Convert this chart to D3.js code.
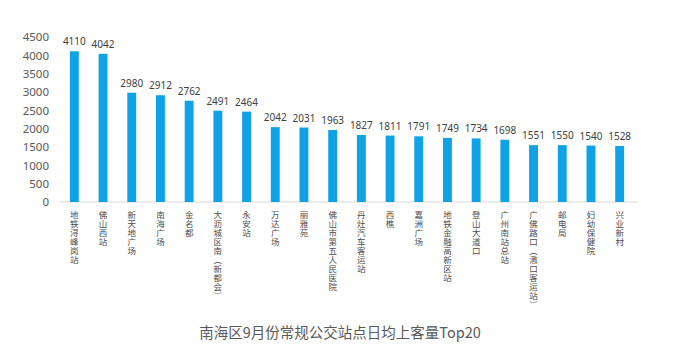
<!DOCTYPE html>
<html lang="zh">
<head>
  <meta charset="utf-8">
  <title>南海区9月份常规公交站点日均上客量Top20</title>
  <script src="https://cdn.jsdelivr.net/npm/d3@7/dist/d3.min.js"></script>
  <style>
    body { margin: 0; background: #fff; }
    text { font-family: "Noto Sans CJK SC", "Noto Sans", sans-serif; }
  </style>
</head>
<body>
  <div id="chart-area"></div>
  <script>
    var stations = ["地铁浔峰岗站", "佛山西站", "新天地广场", "南海广场", "金名都",
                    "大沥城区南（新都会）", "永安站", "万达广场", "丽雅苑", "佛山市第五人民医院",
                    "丹灶汽车客运站", "西樵", "嘉洲广场", "地铁金融高新区站", "登山大道口",
                    "广州南站总站", "广佛路口（漖口客运站）", "邮电局", "妇幼保健院", "兴业新村"];
    var riders = [4110, 4042, 2980, 2912, 2762, 2491, 2464, 2042, 2031, 1963,
                  1827, 1811, 1791, 1749, 1734, 1698, 1551, 1550, 1540, 1528];
    var yTicks = [0, 500, 1000, 1500, 2000, 2500, 3000, 3500, 4000, 4500];
    var title = "南海区9月份常规公交站点日均上客量Top20";

    var svgWidth = 677;
    var svgHeight = 351;
    var margin = { top: 37, left: 60, bottom: 149, right: 43 };
    var width = svgWidth - margin.left - margin.right;
    var height = svgHeight - margin.top - margin.bottom;

    var svg = d3.select("#chart-area")
                .append("svg")
                .attr("width", svgWidth)
                .attr("height", svgHeight);

    var g = svg.append("g")
               .attr("transform", "translate(" + margin.left + "," + margin.top + ")");

    var x = d3.scaleBand()
              .domain(stations)
              .range([0, 574])
              .paddingInner(0.69)
              .paddingOuter(0.345);

    var y = d3.scaleLinear()
              .domain([0, 4500])
              .range([height, 0]);

    // y axis: labels only
    var yAxis = g.append("g")
                 .call(d3.axisLeft(y).tickValues(yTicks).tickFormat(d3.format("d"))
                         .tickSize(0).tickPadding(11));
    yAxis.select(".domain").remove();
    yAxis.selectAll("text")
         .attr("fill", "#595959")
         .style("font-size", "11.5px")
         .style("font-family", "'Noto Sans', sans-serif");

    // baseline
    g.append("line")
     .attr("x1", 0).attr("x2", 578)
     .attr("y1", height).attr("y2", height)
     .attr("stroke", "#d9d9d9");

    g.selectAll("rect.bar")
     .data(riders)
     .enter()
     .append("rect")
     .attr("class", "bar")
     .attr("x", (d, i) => x(stations[i]))
     .attr("width", x.bandwidth())
     .attr("y", (d) => y(d))
     .attr("height", (d) => height - y(d))
     .attr("fill", "#0fa3e6");

    g.selectAll("text.value")
     .data(riders)
     .enter()
     .append("text")
     .attr("class", "value")
     .attr("x", (d, i) => x(stations[i]) + x.bandwidth() / 2)
     .attr("y", (d) => y(d) - 6)
     .attr("text-anchor", "middle")
     .attr("fill", "#404040")
     .style("font-size", "10px")
     .style("font-family", "'Noto Sans', sans-serif")
     .text((d) => d);

    // vertical category labels, one character per line
    var vert = { "（": "︵", "）": "︶" };
    var cats = g.selectAll("text.cat")
     .data(stations)
     .enter()
     .append("text")
     .attr("class", "cat")
     .attr("text-anchor", "middle")
     .attr("fill", "#4d4d4d")
     .style("font-size", "8.5px");

    cats.selectAll("tspan")
        .data((d) => Array.from(d).map((c) => ({ c: vert[c] || c, s: d })))
        .enter()
        .append("tspan")
        .attr("x", (d) => x(d.s) + x.bandwidth() / 2)
        .attr("y", (d, i) => height + 16 + i * 9)
        .text((d) => d.c);

    svg.append("text")
       .attr("x", 340)
       .attr("y", 338)
       .attr("text-anchor", "middle")
       .attr("fill", "#595959")
       .style("font-size", "14.5px")
       .text(title);
  </script>
</body>
</html>
